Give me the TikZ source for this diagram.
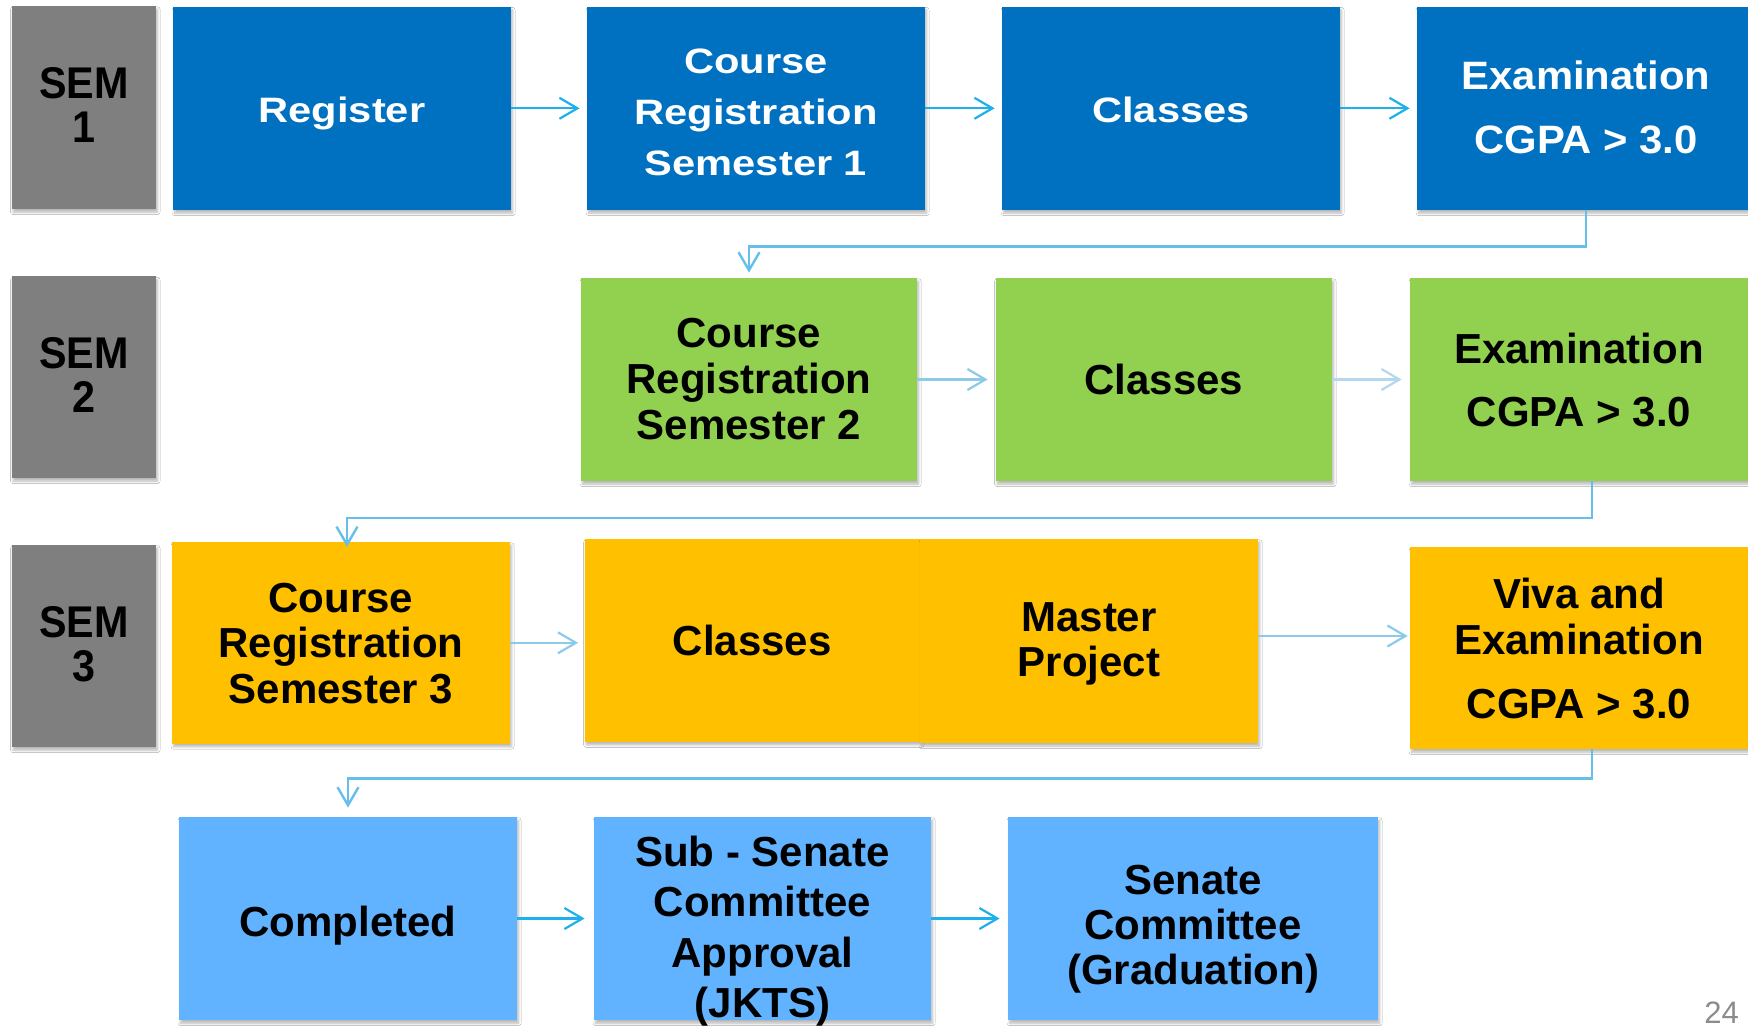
\documentclass[tikz,border=0pt]{standalone}
\usepackage{fontspec}
\setmainfont{Liberation Sans}
\newfontfamily\fwide{Liberation Sans}[FakeStretch=1.18]
\newfontfamily\fexam{Liberation Sans}[FakeStretch=1.055]
\newfontfamily\fsem{Liberation Sans}[FakeStretch=0.93]
\usetikzlibrary{arrows.meta,shadows.blur}
\definecolor{cblue}{HTML}{0070C0}
\definecolor{cgreen}{HTML}{92D050}
\definecolor{corange}{HTML}{FFC000}
\definecolor{clight}{HTML}{61B3FF}
\definecolor{cgray}{HTML}{7F7F7F}
\definecolor{arA}{HTML}{1DB0EA}
\definecolor{arB}{HTML}{66BFEA}
\definecolor{arC}{HTML}{8CCAEA}
\definecolor{arD}{HTML}{B5D8EE}
\definecolor{pgnum}{HTML}{8C8C8C}
\newcommand{\ml}[1]{\begin{tabular}[t]{@{}c@{}}#1\end{tabular}}
\tikzset{
  bx/.style n args={2}{rectangle, inner sep=0pt, minimum width=#1*0.5pt, minimum height=#2*0.5pt,
    blur shadow={shadow xshift=0.8pt, shadow yshift=-1.6pt, shadow blur radius=1.2pt, shadow blur steps=6, shadow opacity=28}},
  semtxt/.style={anchor=base, inner sep=0pt, text=black, font=\fsem\bfseries\fontsize{22.2}{22}\selectfont},
  widetxt/.style={anchor=base, inner sep=0pt, text=white, font=\fwide\bfseries\fontsize{17.65}{#1}\selectfont},
  widetxt/.default=25.5,
  examtxt/.style={anchor=base, inner sep=0pt, text=white, font=\fexam\bfseries\fontsize{19.8}{32}\selectfont},
  blacktxt/.style={anchor=base, inner sep=0pt, text=black, font=\bfseries\fontsize{21}{#1}\selectfont},
  blacktxt/.default=23,
  arr/.style={-{Straight Barb[length=9pt,width=10.5pt]}, line width=1.1pt},
  conn/.style={arr, draw=arB, line width=1.2pt}
}
\begin{document}
\begin{tikzpicture}[x=0.5pt,y=-0.5pt]
\useasboundingbox (0,0) rectangle (1748,1026);
\fill[white] (0,0) rectangle (1748,1026);
\clip (0,0) rectangle (1748,1026);

% SEM labels
\node[bx={144.5}{203}, fill=cgray] (sem1) at (83.75,107.5) {};
\node[bx={144.5}{201.5}, fill=cgray] (sem2) at (83.75,377.25) {};
\node[bx={144.5}{202}, fill=cgray] (sem3) at (83.75,646) {};
\node[semtxt] (sem1t) at (83.75,99) {\ml{SEM\\1}};
\node[semtxt] (sem2t) at (83.75,368.75) {\ml{SEM\\2}};
\node[semtxt] (sem3t) at (83.75,637.5) {\ml{SEM\\3}};

% Row 1
\node[bx={338}{203.3}, fill=cblue] (reg) at (342,108.3) {};
\node[bx={338}{203.3}, fill=cblue] (cr1) at (756,108.3) {};
\node[bx={338}{203.3}, fill=cblue] (cls1) at (1171,108.3) {};
\node[bx={338}{203.3}, fill=cblue] (exam1) at (1586,108.3) {};
\node[widetxt] (regt) at (342,122.7) {Register};
\node[widetxt] (cr1t) at (756,73.3) {\ml{Course\\Registration\\Semester 1}};
\node[widetxt] (cls1t) at (1171,122.7) {Classes};
\node[examtxt] (exam1t) at (1586,90) {\ml{Examination\\CGPA > 3.0}};

% Row 2
\node[bx={336}{203}, fill=cgreen] (cr2) at (749,379.5) {};
\node[bx={336.5}{203}, fill=cgreen] (cls2) at (1163.75,379.5) {};
\node[bx={364}{203}, fill=cgreen] (exam2) at (1592,379.5) {};
\node[blacktxt=23.15] (cr2t) at (749,347) {\ml{Course\\Registration\\Semester 2}};
\node[blacktxt] (cls2t) at (1163.75,394) {Classes};
\node[blacktxt=32] (exam2t) at (1579,363) {\ml{Examination\\CGPA > 3.0}};

% Row 3
\node[bx={338}{201.6}, fill=corange] (cr3) at (341,642.8) {};
\node[bx={335.5}{202.7}, fill=corange] (cls3) at (752.25,640.35) {};
\node[bx={338}{204}, fill=corange] (master) at (1089,641) {};
\node[bx={364}{202}, fill=corange] (viva) at (1592,648) {};
\node[blacktxt=22.85] (cr3t) at (341,612) {\ml{Course\\Registration\\Semester 3}};
\node[blacktxt] (cls3t) at (752.25,655) {Classes};
\node[blacktxt=22.5] (mastert) at (1089,631.7) {\ml{Master\\Project}};
\node[blacktxt=22.85] (vivat) at (1579,608.3) {\ml{Viva and\\Examination\\[9.3pt]CGPA > 3.0}};

% Row 4
\node[bx={338}{203}, fill=clight] (comp) at (348,918.5) {};
\node[bx={337}{203}, fill=clight] (sub) at (762.5,918.5) {};
\node[bx={370}{203}, fill=clight] (senate) at (1193,918.5) {};
\node[blacktxt] (compt) at (348,936.7) {Completed};
\node[blacktxt=25.25] (subt) at (762.5,866) {\ml{Sub - Senate\\Committee\\Approval\\(JKTS)}};
\node[blacktxt=22.65] (senatet) at (1193,894) {\ml{Senate\\Committee\\(Graduation)}};

% page number
\node[anchor=base, inner sep=0pt, text=pgnum, font=\fontsize{15.5}{18}\selectfont] (pg) at (1721.5,1023) {24};

% Row 1 arrows
\draw[arr, draw=arA, shorten >=3.5pt] (reg.east) -- (cr1.west);
\draw[arr, draw=arA, shorten >=3.5pt] (cr1.east) -- (cls1.west);
\draw[arr, draw=arA, shorten >=3.5pt] (cls1.east) -- (exam1.west);
% elbow 1
\draw[conn, shorten >=2.5pt] (exam1.south) -- ++(0,36) -| (cr2.north);
% Row 2 arrows
\draw[arr, draw=arC, shorten >=3.75pt] (cr2.east) -- (cls2.west);
\draw[arr, draw=arD, shorten >=4pt] (cls2.east) -- (exam2.west);
% elbow 2
\coordinate (e2) at (347,547);
\draw[conn] (exam2.south) -- ++(0,36.5) -| (e2);
% Row 3 arrows
\draw[arr, draw=arC, shorten >=3pt] (cr3.east) -- (cls3.west |- cr3.east);
\draw[arr, draw=arC, shorten >=1pt] ([yshift=2.5pt]master.east) -- ([yshift=6pt]viva.west);
% elbow 3
\draw[conn, shorten >=4.5pt] (viva.south) -- ++(0,29) -| (comp.north);
% Row 4 arrows
\draw[arr, draw=arA, shorten >=4.5pt] (comp.east) -- (sub.west);
\draw[arr, draw=arA, shorten >=4pt] (sub.east) -- (senate.west);
\end{tikzpicture}
\end{document}
